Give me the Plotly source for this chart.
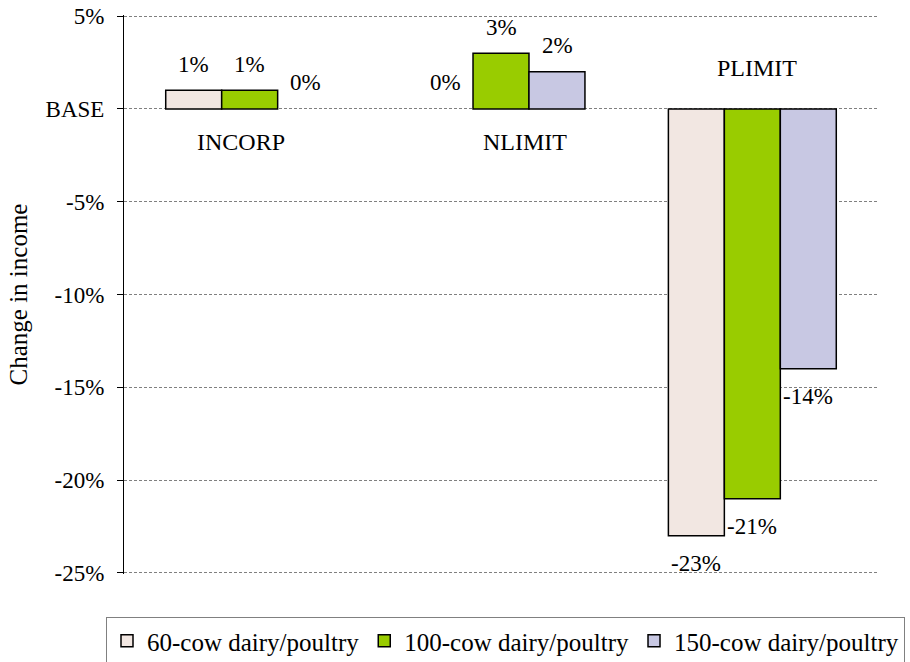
import plotly.graph_objects as go

# policy scenarios (x categories)
scenarios = ["INCORP", "NLIMIT", "PLIMIT"]

# farm types and their change in income (%), relative to BASE
farm_types = ["60-cow dairy/poultry", "100-cow dairy/poultry", "150-cow dairy/poultry"]
change_60 = [1, 0, -23]
change_100 = [1, 3, -21]
change_150 = [0, 2, -14]

# y axis ticks
tick_vals = [5, 0, -5, -10, -15, -20, -25]
tick_text = ["5%", "BASE", "-5%", "-10%", "-15%", "-20%", "-25%"]

FONT = "Times New Roman, Liberation Serif, DejaVu Serif, serif"
BAR_COLORS = ["#F2E7E2", "#99CC00", "#C8C8E3"]
BAR_PX = 56  # width of one bar in pixels, used to shift value labels

W, H = 910, 662
ML, MR, MT, MB = 124, 32, 15, 88
plot_w = W - ML - MR
plot_h = H - MT - MB

series = [change_60, change_100, change_150]

fig = go.Figure()
for name, vals, color in zip(farm_types, series, BAR_COLORS):
    # zero-height bars are not drawn in the original, only their label
    fig.add_trace(go.Bar(
        x=scenarios,
        y=[v if v != 0 else None for v in vals],
        name=name,
        marker=dict(color=color, line=dict(color="black", width=1.5)),
        hoverinfo="name+y",
    ))

# value labels, placed a bit away from the bar end (like the original)
annotations = []
for i, vals in enumerate(series):
    for cat, v in zip(scenarios, vals):
        annotations.append(dict(
            x=cat, y=v, xref="x", yref="y",
            text=f"{v}%", showarrow=False,
            xshift=(i - 1) * BAR_PX,
            yshift=26 if v >= 0 else -28,
            font=dict(family=FONT, size=23, color="black"),
        ))

# scenario names
cat_pos = {"INCORP": (-1.8, -9), "NLIMIT": (-1.8, 24), "PLIMIT": (2.2, 5)}
for cat in scenarios:
    yv, xs = cat_pos[cat]
    annotations.append(dict(
        x=cat, y=yv, xref="x", yref="y", text=cat, showarrow=False,
        xshift=xs, font=dict(family=FONT, size=24, color="black"),
    ))

fig.update_layout(
    width=W, height=H,
    margin=dict(l=ML, r=MR, t=MT, b=MB, autoexpand=False),
    paper_bgcolor="white", plot_bgcolor="white",
    barmode="group", bargap=0.332, bargroupgap=0,
    font=dict(family=FONT, color="black"),
    annotations=annotations,
    showlegend=True,
    # legend sits left of / below the plot area so it may use the full width
    legend=dict(
        orientation="h",
        x=(106 - ML) / plot_w, y=-(617 - (MT + plot_h)) / plot_h,
        xanchor="left", yanchor="top",
        bordercolor="#808080", borderwidth=1,
        font=dict(family=FONT, size=25, color="black"),
        traceorder="normal",
        itemclick=False,
    ),
)

fig.update_xaxes(
    showticklabels=False, showgrid=False, zeroline=False,
    showline=False, ticks="",
)
fig.update_yaxes(
    range=[-25.06, 5.06],  # small pad so the end gridlines are drawn
    tickvals=tick_vals, ticktext=tick_text,
    tickfont=dict(family=FONT, size=23, color="black"),
    ticklabelstandoff=8,
    showline=True, linecolor="black", linewidth=1,
    ticks="outside", ticklen=6, tickcolor="black",
    showgrid=True, gridcolor="#808080", gridwidth=1, griddash="3px,2px",
    zeroline=False,
    title=dict(text="Change in income", font=dict(family=FONT, size=25, color="black"), standoff=10),
)

# the page has a default 8px body margin; drop it so the graph sits at 0,0
fig.write_html(
    "out.html",
    config={"displayModeBar": False},
    post_script="document.body.style.margin='0';",
)
